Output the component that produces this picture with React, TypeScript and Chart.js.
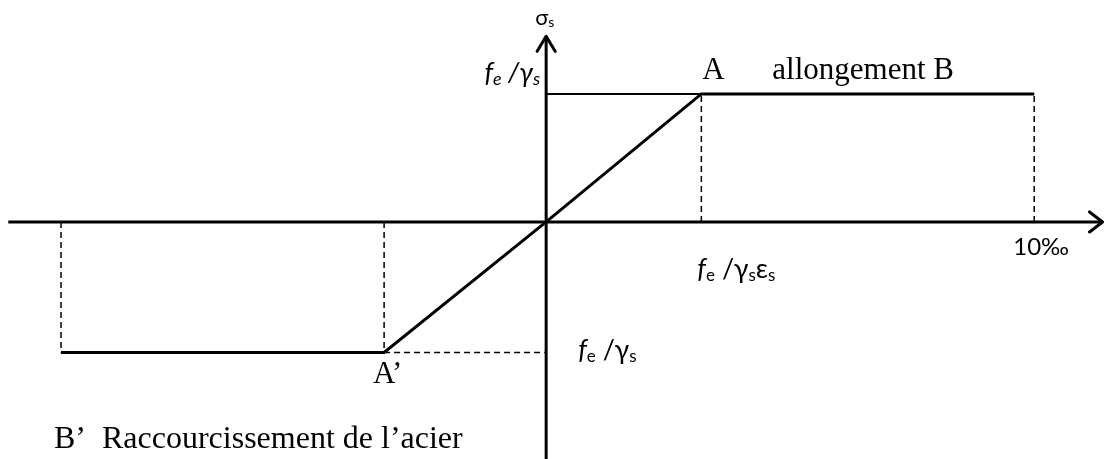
import React, { useEffect, useRef } from "react";
import { Chart, registerables } from "chart.js";

Chart.register(...registerables);

// Strain (‰) and stress (in units of fe/γs) of the characteristic points B', A', O, A, B
const curveStrain = [-9.94, -3.32, 0, 3.18, 10];
const curveStress = [-1.02, -1.02, 0, 1, 1];
// Extents of the drawn axes
const strainAxisRange = [-11.02, 11.4];
const stressAxisRange = [-1.9, 1.45];
// Scale extents
const strainScale = [-11.19, 11.43];
const stressScale = [-1.852, 1.734];

const SERIF = '"Liberation Serif", "Times New Roman", serif';
const SANS = 'Lato, "Open Sans", sans-serif';

type Run = { t: string; font: string; dy?: number };

function drawRuns(ctx: CanvasRenderingContext2D, x: number, y: number, runs: Run[], align: "left" | "right" = "left") {
  let total = 0;
  for (const r of runs) {
    ctx.font = r.font;
    total += ctx.measureText(r.t).width;
  }
  let cx = align === "right" ? x - total : x;
  for (const r of runs) {
    ctx.font = r.font;
    ctx.fillText(r.t, cx, y + (r.dy || 0));
    cx += ctx.measureText(r.t).width;
  }
}

export default function App() {
  const ref = useRef<HTMLCanvasElement | null>(null);

  useEffect(() => {
    if (!ref.current) return;
    const pt = (i: number) => ({ x: curveStrain[i], y: curveStress[i] });
    const Bp = pt(0), Ap = pt(1), O = pt(2), A = pt(3), B = pt(4);
    const gap = { x: NaN, y: null as any };

    const mainCurve = [Bp, Ap, O, A, B];
    const thinLine = [{ x: 0, y: A.y }, A];
    const dashed = [
      { x: A.x, y: 0 }, { x: A.x, y: A.y }, gap,
      { x: B.x, y: 0 }, { x: B.x, y: B.y }, gap,
      { x: Ap.x, y: 0 }, { x: Ap.x, y: Ap.y }, gap,
      { x: Bp.x, y: 0 }, { x: Bp.x, y: Bp.y }, gap,
      { x: Ap.x, y: Ap.y }, { x: 0, y: Ap.y }, gap,
      { x: A.x, y: A.y }, { x: B.x, y: B.y },
    ];
    const hAxis = [{ x: strainAxisRange[0], y: 0 }, { x: strainAxisRange[1], y: 0 }];
    const vAxis = [{ x: 0, y: stressAxisRange[0] }, { x: 0, y: stressAxisRange[1] }];

    const labels: { ax: number; ay: number; dx: number; dy: number; runs: Run[]; align?: "left" | "right" }[] = [
      { ax: 0, ay: stressAxisRange[1], dx: -11, dy: -11, runs: [
        { t: "σ", font: `22px ${SANS}` }, { t: "s", font: `14px ${SANS}`, dy: 2 }] },
      { ax: 0, ay: A.y, dx: -6, dy: -12, align: "right", runs: [
        { t: "f", font: `italic 27px ${SANS}` }, { t: "e", font: `italic 18px ${SANS}`, dy: 3 },
        { t: " /", font: `italic 27px ${SANS}` }, { t: "γ", font: `italic 27px ${SANS}` },
        { t: "s", font: `italic 18px ${SANS}`, dy: 3 }] },
      { ax: A.x, ay: A.y, dx: 1, dy: -15, runs: [{ t: "A", font: `31px ${SERIF}` }] },
      { ax: A.x, ay: A.y, dx: 71, dy: -15, runs: [{ t: "allongement B", font: `31px ${SERIF}` }] },
      { ax: B.x, ay: 0, dx: -21, dy: 33, runs: [{ t: "10‰", font: `24px ${SANS}` }] },
      { ax: A.x, ay: 0, dx: -4, dy: 56, runs: [
        { t: "f", font: `italic 27px ${SANS}` }, { t: "e", font: `17px ${SANS}`, dy: 3 },
        { t: " /γ", font: `27px ${SANS}` }, { t: "s", font: `17px ${SANS}`, dy: 3 },
        { t: "ε", font: `27px ${SANS}` }, { t: "s", font: `17px ${SANS}`, dy: 3 }] },
      { ax: 0, ay: Ap.y, dx: 32, dy: 6, runs: [
        { t: "f", font: `italic 27px ${SANS}` }, { t: "e", font: `17px ${SANS}`, dy: 3 },
        { t: " /γ", font: `27px ${SANS}` }, { t: "s", font: `17px ${SANS}`, dy: 3 }] },
      { ax: Ap.x, ay: Ap.y, dx: -11, dy: 30, runs: [{ t: "A’", font: `31px ${SERIF}` }] },
      { ax: Bp.x, ay: Ap.y, dx: -7, dy: 95, runs: [{ t: "B’  Raccourcissement de l’acier", font: `32px ${SERIF}` }] },
    ];

    const overlay = {
      id: "overlay",
      afterDatasetsDraw(chart: any) {
        const ctx: CanvasRenderingContext2D = chart.ctx;
        const xs = chart.scales.x, ys = chart.scales.y;
        ctx.save();
        ctx.strokeStyle = "#000";
        ctx.lineWidth = 3;
        ctx.lineCap = "round";
        ctx.lineJoin = "round";
        // arrow on strain axis
        const hx = xs.getPixelForValue(strainAxisRange[1]);
        const hy = ys.getPixelForValue(0);
        ctx.beginPath();
        ctx.moveTo(hx - 13, hy - 10);
        ctx.lineTo(hx, hy);
        ctx.lineTo(hx - 13, hy + 10);
        ctx.stroke();
        // arrow on stress axis
        const vx = xs.getPixelForValue(0);
        const vy = ys.getPixelForValue(stressAxisRange[1]);
        ctx.beginPath();
        ctx.moveTo(vx - 9, vy + 15);
        ctx.lineTo(vx, vy);
        ctx.lineTo(vx + 9, vy + 15);
        ctx.stroke();
        // labels
        ctx.fillStyle = "#000";
        ctx.textBaseline = "alphabetic";
        for (const l of labels) {
          const px = xs.getPixelForValue(l.ax) + l.dx;
          const py = ys.getPixelForValue(l.ay) + l.dy;
          drawRuns(ctx, px, py, l.runs, l.align || "left");
        }
        ctx.restore();
      },
    };

    const chart = new Chart(ref.current, {
      type: "scatter",
      data: {
        datasets: [
          { data: hAxis, showLine: true, borderColor: "#000", borderWidth: 3, pointRadius: 0 },
          { data: vAxis, showLine: true, borderColor: "#000", borderWidth: 3, pointRadius: 0 },
          { data: dashed as any, showLine: true, borderColor: "#000", borderWidth: 1.5, borderDash: [6, 4], pointRadius: 0, spanGaps: false },
          { data: thinLine, showLine: true, borderColor: "#000", borderWidth: 2, pointRadius: 0 },
          { data: mainCurve, showLine: true, borderColor: "#000", borderWidth: 3, pointRadius: 0, borderJoinStyle: "miter" },
        ],
      },
      options: {
        responsive: false,
        animation: false,
        events: [],
        layout: { padding: 0 },
        scales: {
          x: { type: "linear", min: strainScale[0], max: strainScale[1], display: false },
          y: { type: "linear", min: stressScale[0], max: stressScale[1], display: false },
        },
        plugins: { legend: { display: false }, tooltip: { enabled: false } },
      },
      plugins: [overlay],
    });
    return () => chart.destroy();
  }, []);

  return (
    <div style={{ position: "absolute", left: 0, top: 0, width: 1104, height: 459, background: "#fff" }}>
      <canvas ref={ref} width={1104} height={459} style={{ display: "block" }} />
    </div>
  );
}
